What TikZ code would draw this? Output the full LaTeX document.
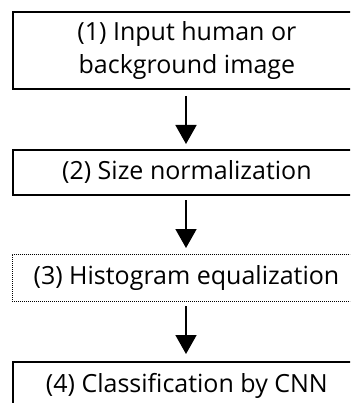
\documentclass[tikz,border=0pt]{standalone}
\usepackage{fontspec}
\setmainfont{Open Sans}
\usetikzlibrary{arrows.meta}
\begin{document}
\begin{tikzpicture}[x=1pt,y=-1pt,
  stepbox/.style={draw=black, line width=1.8pt, minimum width=348pt, inner sep=0pt, align=center, font=\fontsize{25}{33}\selectfont, anchor=north west},
  dotbox/.style={stepbox, line width=0.9pt, dash pattern=on 1pt off 1pt},
  flow/.style={line width=1.8pt, -{Triangle[length=19pt,width=21pt]}}]
\useasboundingbox (0,0) rectangle (350,403);
\clip (0,0) rectangle (350,403);
\node[stepbox, minimum height=77pt] (b1) at (12,11) {(1) Input human or\\background image};
\node[stepbox, minimum height=45pt] (b2) at (12,149) {(2) Size normalization};
\node[dotbox, minimum height=47pt] (b3) at (12,254) {(3) Histogram equalization};
\node[stepbox, minimum height=48pt] (b4) at (12,361) {(4) Classification by CNN};
\coordinate (a1s) at (186,96); \coordinate (a1e) at (186,144);
\coordinate (a2s) at (186,200); \coordinate (a2e) at (186,248);
\coordinate (a3s) at (186,306); \coordinate (a3e) at (186,354);
\draw[flow] (a1s) -- (a1e);
\draw[flow] (a2s) -- (a2e);
\draw[flow] (a3s) -- (a3e);
\end{tikzpicture}
\end{document}
